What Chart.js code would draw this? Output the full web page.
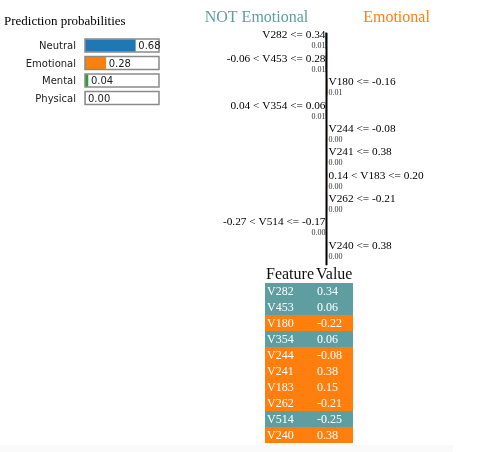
<!DOCTYPE html>
<html>
<head>
<meta charset="utf-8">
<script src="https://cdn.jsdelivr.net/npm/chart.js"></script>
<style>
  body { margin: 0; background: #fff; width: 503px; height: 452px; position: relative; overflow: hidden; }
  canvas { position: absolute; }
  #probChart { left: 0; top: 0; }
  #expChart { left: 200px; top: 0; }
  #featTable { position: absolute; left: 265px; top: 265px; border-collapse: collapse; border-spacing: 0; font-family: 'Liberation Serif', serif; }
  #featTable th { font-size: 16px; font-weight: normal; text-align: left; padding: 0 0 0 1px; height: 18px; line-height: 18px; color: #111; }
  #featTable td { font-size: 12px; color: #fff; height: 16px; line-height: 16px; padding: 0 0 0 2px; }
  #bottomStrip { position: absolute; left: 0; top: 445px; width: 453px; height: 7px; background: #fafafa; }
</style>
</head>
<body>
<canvas id="probChart" width="200" height="115"></canvas>
<canvas id="expChart" width="280" height="272"></canvas>
<table id="featTable"></table>
<div id="bottomStrip"></div>

<script>
// Prediction probabilities
const probClasses = ['Neutral', 'Emotional', 'Mental', 'Physical'];
const probValues = [0.68, 0.28, 0.04, 0.00];

// Explanation for class "Emotional"
const conditions = [
    'V282 <= 0.34',
    '-0.06 < V453 <= 0.28',
    'V180 <= -0.16',
    '0.04 < V354 <= 0.06',
    'V244 <= -0.08',
    'V241 <= 0.38',
    '0.14 < V183 <= 0.20',
    'V262 <= -0.21',
    '-0.27 < V514 <= -0.17',
    'V240 <= 0.38'
];
const weights = [-0.011, -0.010, 0.008, -0.007, 0.004, 0.004, 0.004, 0.004, -0.003, 0.003];

// Feature values table
const featureNames = ['V282', 'V453', 'V180', 'V354', 'V244', 'V241', 'V183', 'V262', 'V514', 'V240'];
const featureValues = [0.34, 0.06, -0.22, 0.06, -0.08, 0.38, 0.15, -0.21, -0.25, 0.38];

const classColors = ['#1f77b4', '#ff7f0e', '#2ca02c', '#d62728'];
const NEG_COLOR = '#5f9ea0';
const POS_COLOR = '#ff7f0e';
const SERIF = "'Liberation Serif', 'Times New Roman', serif";
const SANS = "'DejaVu Sans', Verdana, sans-serif";

// Probabilities chart: labels, outline boxes and value texts
const probPlugin = {
    id: 'probPlugin',
    afterDatasetsDraw(chart) {
        const ctx = chart.ctx;
        const x = chart.scales.x;
        const bars = chart.getDatasetMeta(0).data;
        ctx.save();
        ctx.fillStyle = '#000';
        ctx.font = '13px ' + SERIF;
        ctx.textAlign = 'left';
        ctx.textBaseline = 'alphabetic';
        ctx.fillText('Prediction probabilities', 4, 25);

        bars.forEach(function(bar, i) {
            const x0 = x.getPixelForValue(0);
            const x1 = x.getPixelForValue(1);
            ctx.strokeStyle = '#8a8a8a';
            ctx.lineWidth = 1.5;
            ctx.strokeRect(x0, bar.y - 6.5, x1 - x0, 13);

            ctx.fillStyle = '#222';
            ctx.font = '10px ' + SANS;
            ctx.textAlign = 'right';
            ctx.fillText(probClasses[i], x0 - 9, bar.y + 3.8);

            ctx.textAlign = 'left';
            ctx.fillText(probValues[i].toFixed(2), x.getPixelForValue(probValues[i]) + 3, bar.y + 3.8);
        });
        ctx.restore();
    }
};

new Chart(document.getElementById('probChart').getContext('2d'), {
    type: 'bar',
    data: {
        labels: probClasses,
        datasets: [{
            data: probValues,
            backgroundColor: classColors,
            borderWidth: 0,
            barThickness: 12
        }]
    },
    options: {
        indexAxis: 'y',
        responsive: false,
        animation: false,
        layout: { padding: { left: 85, right: 41, top: 36.75, bottom: 8.25 } },
        scales: {
            x: { display: false, min: 0, max: 1 },
            y: { display: false }
        },
        plugins: { legend: { display: false }, tooltip: { enabled: false } }
    },
    plugins: [probPlugin]
});

// Explanation chart: axis, class titles and feature labels
const expPlugin = {
    id: 'expPlugin',
    afterDatasetsDraw(chart) {
        const ctx = chart.ctx;
        const area = chart.chartArea;
        const x0 = chart.scales.x.getPixelForValue(0);
        const bars = chart.getDatasetMeta(0).data;
        ctx.save();

        ctx.strokeStyle = '#000';
        ctx.lineWidth = 2;
        ctx.beginPath();
        ctx.moveTo(x0, area.top + 4);
        ctx.lineTo(x0, area.bottom + 3);
        ctx.stroke();

        ctx.font = '16px ' + SERIF;
        ctx.textAlign = 'center';
        ctx.fillStyle = NEG_COLOR;
        ctx.fillText('NOT Emotional', x0 - 70, 22);
        ctx.fillStyle = POS_COLOR;
        ctx.fillText('Emotional', x0 + 70, 22);

        bars.forEach(function(bar, i) {
            const neg = weights[i] < 0;
            const tx = neg ? x0 - 1 : x0 + 2;
            ctx.textAlign = neg ? 'right' : 'left';
            ctx.fillStyle = '#000';
            ctx.font = '11.3px ' + SERIF;
            ctx.fillText(conditions[i], tx, bar.y - 2);
            ctx.fillStyle = '#333';
            ctx.font = '8px ' + SERIF;
            ctx.fillText(Math.abs(weights[i]).toFixed(2), tx, bar.y + 8);
        });
        ctx.restore();
    }
};

new Chart(document.getElementById('expChart').getContext('2d'), {
    type: 'bar',
    data: {
        labels: conditions,
        datasets: [{
            data: weights,
            backgroundColor: weights.map(w => w < 0 ? NEG_COLOR : POS_COLOR),
            borderWidth: 0,
            barThickness: 16
        }]
    },
    options: {
        indexAxis: 'y',
        responsive: false,
        animation: false,
        layout: { padding: { left: 26, right: 53, top: 28.8, bottom: 9.7 } },
        scales: {
            x: { display: false, min: -1, max: 1 },
            y: { display: false }
        },
        plugins: { legend: { display: false }, tooltip: { enabled: false } }
    },
    plugins: [expPlugin]
});

// Feature / value table
function buildTable() {
    const table = document.getElementById('featTable');
    let html = '<tr><th style="width:49px">Feature</th><th style="width:37px">Value</th></tr>';
    featureNames.forEach(function(name, i) {
        const color = weights[i] < 0 ? NEG_COLOR : POS_COLOR;
        html += '<tr style="background:' + color + '"><td style="width:48px">' + name +
                '</td><td style="width:36px">' + featureValues[i].toFixed(2) + '</td></tr>';
    });
    table.innerHTML = html;
}
buildTable();
</script>
</body>
</html>
